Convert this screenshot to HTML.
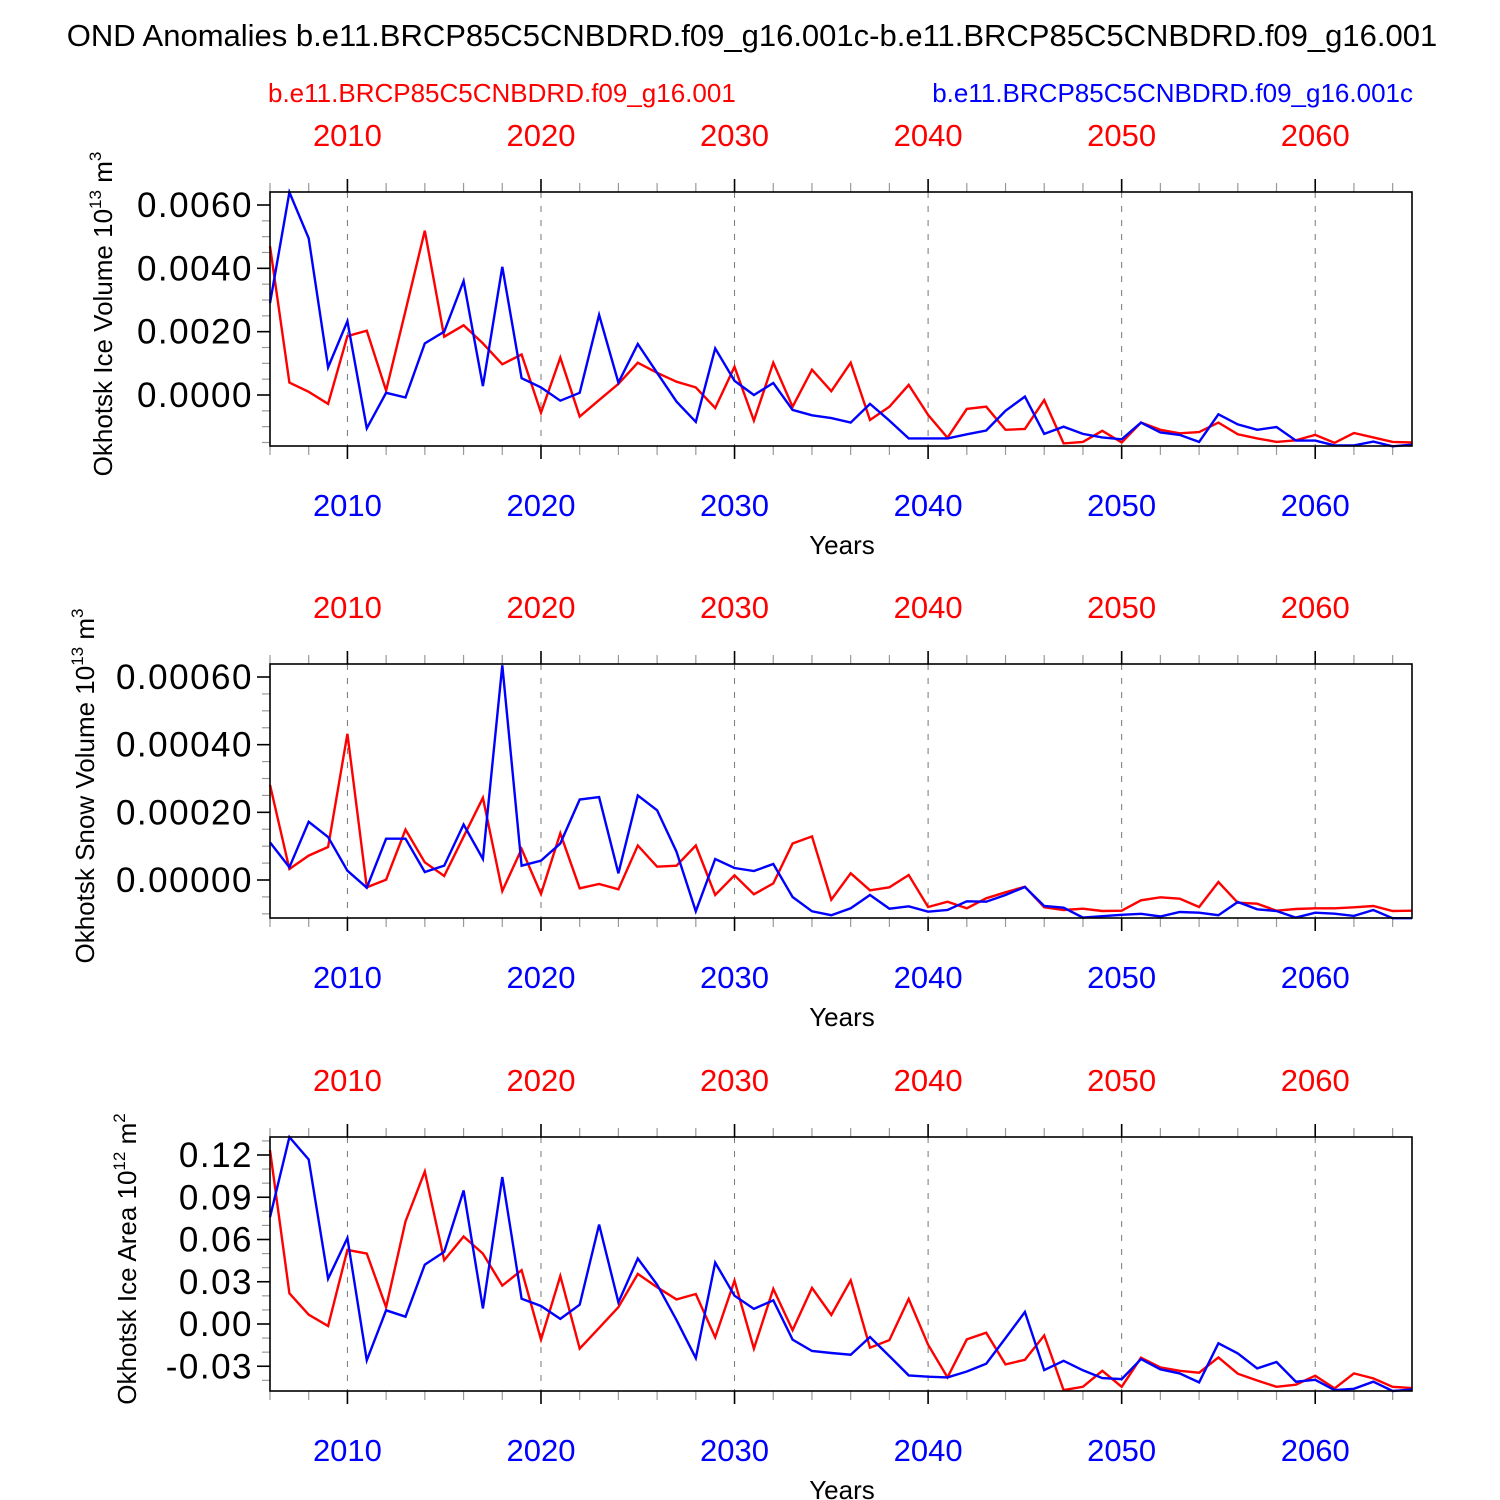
<!DOCTYPE html>
<html><head><meta charset="utf-8"><style>
body{margin:0;background:#fff;}
svg{display:block;font-family:"Liberation Sans",sans-serif;}
</style></head><body>
<svg id="chart" width="1500" height="1500" viewBox="0 0 1500 1500" xmlns="http://www.w3.org/2000/svg">
<text x="752" y="46" font-size="31" text-anchor="middle">OND Anomalies b.e11.BRCP85C5CNBDRD.f09_g16.001c-b.e11.BRCP85C5CNBDRD.f09_g16.001</text>
<text x="268" y="102" font-size="26" fill="#ff0000">b.e11.BRCP85C5CNBDRD.f09_g16.001</text>
<text x="1413" y="102" font-size="26" fill="#0000ff" text-anchor="end">b.e11.BRCP85C5CNBDRD.f09_g16.001c</text>
</svg>
<script>
const startYear = 2006;
const yearTicks = [2010, 2020, 2030, 2040, 2050, 2060];
const iceVolRed = [0.0047,0.00039,0.0001,-0.00028,0.00186,0.00203,0.00014,0.00266,0.00519,0.00184,0.0022,0.00163,0.00097,0.00128,-0.00056,0.00118,-0.00068,-0.00016,0.00035,0.00102,0.0007,0.00042,0.00024,-0.00041,0.00089,-0.00081,0.00102,-0.00037,0.0008,0.00012,0.00102,-0.00079,-0.00037,0.00032,-0.00063,-0.00135,-0.00044,-0.00037,-0.0011,-0.00107,-0.00016,-0.00153,-0.00148,-0.00113,-0.0015,-0.00087,-0.0011,-0.00121,-0.00117,-0.00087,-0.00124,-0.00137,-0.00148,-0.00143,-0.00126,-0.00151,-0.0012,-0.00134,-0.00148,-0.0015];
const iceVolBlue = [0.0029,0.0064,0.00495,0.00087,0.00233,-0.00105,0.00007,-0.00008,0.00163,0.002,0.0036,0.00028,0.00405,0.00053,0.00024,-0.00018,0.00007,0.00253,0.00039,0.00161,0.0007,-0.00021,-0.00085,0.00147,0.00045,0.0,0.00038,-0.00047,-0.00064,-0.00073,-0.00087,-0.00028,-0.00081,-0.00137,-0.00137,-0.00137,-0.00124,-0.00112,-0.0005,-0.00005,-0.00123,-0.001,-0.00123,-0.00134,-0.0014,-0.00087,-0.00118,-0.00126,-0.00148,-0.00061,-0.00093,-0.0011,-0.00101,-0.00144,-0.00144,-0.00159,-0.00159,-0.00147,-0.00162,-0.00157];
const snowVolRed = [0.000281,0.0000325,0.000072,0.0000975,0.000432,-0.0000217,0.000001,0.000149,0.0000522,0.0000118,0.000128,0.000243,-0.0000325,0.0000916,-0.0000414,0.000138,-0.0000246,-0.0000118,-0.0000276,0.000102,0.0000394,0.0000424,0.000102,-0.0000443,0.0000138,-0.0000424,-0.00001,0.000108,0.000129,-0.0000581,0.0000197,-0.0000305,-0.0000217,0.0000148,-0.0000798,-0.000064,-0.0000837,-0.0000542,-0.0000365,-0.0000197,-0.0000808,-0.0000887,-0.0000847,-0.0000916,-0.0000906,-0.0000601,-0.0000512,-0.0000552,-0.0000798,-0.0000059,-0.000067,-0.00007,-0.0000906,-0.0000857,-0.0000837,-0.0000837,-0.0000808,-0.0000769,-0.0000916,-0.0000906];
const snowVolBlue = [0.000111,0.0000374,0.000172,0.000127,0.0000276,-0.0000227,0.000122,0.000122,0.0000236,0.0000424,0.000164,0.0000621,0.000635,0.0000424,0.0000571,0.000108,0.000238,0.000245,0.0000197,0.00025,0.000206,0.0000837,-0.0000926,0.0000621,0.0000355,0.0000266,0.0000473,-0.0000502,-0.0000926,-0.000104,-0.0000837,-0.0000443,-0.0000847,-0.0000778,-0.0000936,-0.0000887,-0.000063,-0.000064,-0.0000443,-0.0000207,-0.0000769,-0.0000818,-0.000111,-0.000107,-0.000103,-0.0001,-0.000108,-0.0000946,-0.0000966,-0.000104,-0.000065,-0.0000867,-0.0000916,-0.000111,-0.0000966,-0.0000995,-0.000106,-0.0000887,-0.000113,-0.000113];
const iceAreaRed = [0.1235,0.0218,0.0066,-0.0014,0.0526,0.05,0.0119,0.0728,0.1083,0.0453,0.0621,0.05,0.0273,0.0382,-0.0111,0.0341,-0.0175,-0.0028,0.0119,0.0356,0.0261,0.0175,0.0213,-0.0095,0.0308,-0.0175,0.0249,-0.0043,0.0256,0.0064,0.031,-0.0168,-0.0114,0.0178,-0.0147,-0.0379,-0.0109,-0.0062,-0.0287,-0.0254,-0.0081,-0.0469,-0.0446,-0.0332,-0.0446,-0.0239,-0.0308,-0.0332,-0.0346,-0.0237,-0.0353,-0.0401,-0.0446,-0.0431,-0.0367,-0.0457,-0.0351,-0.0386,-0.0446,-0.0455];
const iceAreaBlue = [0.0758,0.1327,0.1168,0.0322,0.0611,-0.0258,0.0097,0.0052,0.0422,0.0512,0.0948,0.0111,0.1043,0.018,0.0128,0.0036,0.0137,0.0706,0.0154,0.0465,0.028,0.0028,-0.0242,0.0436,0.0201,0.0107,0.0168,-0.0111,-0.0192,-0.0206,-0.0218,-0.0092,-0.0228,-0.0365,-0.0374,-0.0379,-0.0337,-0.0282,-0.01,0.0085,-0.0327,-0.0261,-0.0329,-0.0384,-0.0391,-0.0249,-0.0322,-0.0351,-0.0415,-0.0137,-0.0209,-0.0315,-0.027,-0.041,-0.0396,-0.0469,-0.046,-0.041,-0.0476,-0.0465];
const iceVolTicks = ["0.0060","0.0040","0.0020","0.0000"];
const snowVolTicks = ["0.00060","0.00040","0.00020","0.00000"];
const iceAreaTicks = ["0.12","0.09","0.06","0.03","0.00","-0.03"];

const NS = "http://www.w3.org/2000/svg";
const svg = document.getElementById('chart');
const X0 = 270, X1 = 1412, YR0 = 2006, YR1 = 2065;
function xScale(yr){ return X0 + (yr - YR0) * (X1 - X0) / (YR1 - YR0); }
function mk(tag, attrs, parent){
  const e = document.createElementNS(NS, tag);
  for (const k in attrs) e.setAttribute(k, attrs[k]);
  (parent || svg).appendChild(e);
  return e;
}
const panels = [
  {key:'ice-volume', top:192, zeroY:395, pxPerUnit:190/0.006, minor:0.0005, red:iceVolRed, blue:iceVolBlue, ticks:iceVolTicks, title:'Okhotsk Ice Volume 10', sup:'13', unit:' m', usup:'3', tx:103},
  {key:'snow-volume', top:664, zeroY:880, pxPerUnit:203/0.0006, minor:0.00005, red:snowVolRed, blue:snowVolBlue, ticks:snowVolTicks, title:'Okhotsk Snow Volume 10', sup:'13', unit:' m', usup:'3', tx:85},
  {key:'ice-area', top:1137, zeroY:1324, pxPerUnit:169/0.12, minor:0.01, red:iceAreaRed, blue:iceAreaBlue, ticks:iceAreaTicks, title:'Okhotsk Ice Area 10', sup:'12', unit:' m', usup:'2', tx:127}
];
const H = 254;
panels.forEach(p => {
  const g = mk('g', {});
  
  
  const bot = p.top + H;
  const yS = v => p.zeroY - v * p.pxPerUnit;
  const vmax = (p.zeroY - p.top) / p.pxPerUnit, vmin = (p.zeroY - bot) / p.pxPerUnit;
  yearTicks.forEach(yr => {
    const l = mk('line', {x1:xScale(yr), x2:xScale(yr), y1:p.top, y2:bot, stroke:'#777', 'stroke-width':1, 'stroke-dasharray':'6,8'}, g);
    
    
  });
  for (let yr = YR0; yr <= YR1; yr++) {
    const major = yr % 10 === 0;
    if (!major && yr % 2 !== 0) continue;
    const len = major ? 13 : 9, col = major ? '#000' : '#999';
    const t1 = mk('line', {x1:xScale(yr), x2:xScale(yr), y1:p.top, y2:p.top - len, stroke:col, 'stroke-width':major?1.6:1.2}, g);
    
    
    const t2 = mk('line', {x1:xScale(yr), x2:xScale(yr), y1:bot, y2:bot + len, stroke:col, 'stroke-width':major?1.6:1.2}, g);
    
    
  }
  const n0 = Math.ceil(vmin / p.minor - 1e-6), n1 = Math.floor(vmax / p.minor + 1e-6);
  for (let n = n0; n <= n1; n++) {
    const y = yS(n * p.minor);
    const isMajor = p.ticks.some(t => Math.abs(parseFloat(t) - n * p.minor) < p.minor * 0.1);
    const tk = mk('line', {x1:X0, x2:X0 - (isMajor ? 13 : 8), y1:y, y2:y, stroke:isMajor?'#000':'#999', 'stroke-width':isMajor?1.6:1.2}, g);
    
    
  }
  p.ticks.forEach(t => {
    const tx = mk('text', {x:253, y:yS(parseFloat(t)) + 12, 'font-size':35, 'letter-spacing':1.5, 'text-anchor':'end'}, g);
    
    
    tx.textContent = t;
  });
  yearTicks.forEach(yr => {
    const a = mk('text', {x:xScale(yr), y:p.top - 46, 'font-size':31, 'text-anchor':'middle', fill:'#ff0000'}, g);
    
    
    a.textContent = yr;
    const b = mk('text', {x:xScale(yr), y:bot + 70, 'font-size':31, 'text-anchor':'middle', fill:'#0000ff'}, g);
    
    
    b.textContent = yr;
  });
  const xt = mk('text', {x:842, y:bot + 108, 'font-size':26, 'text-anchor':'middle'}, g);
  
  
  xt.textContent = 'Years';
  const cy = p.top + H / 2 - 5;
  const yt = mk('text', {x:0, y:0, 'font-size':26, 'text-anchor':'middle', transform:`translate(${p.tx + 9} ${cy}) rotate(-90)`}, g);
  
  
  yt.appendChild(document.createTextNode(p.title));
  const s1 = mk('tspan', {dy:-11, 'font-size':17}, yt); s1.textContent = p.sup;
  const s2 = mk('tspan', {dy:11}, yt); s2.textContent = p.unit;
  const s3 = mk('tspan', {dy:-11, 'font-size':17}, yt); s3.textContent = p.usup;
  [['red', p.red, '#ff0000'], ['blue', p.blue, '#0000ff']].forEach(([nm, arr, col]) => {
    const pts = arr.map((v, i) => xScale(startYear + i).toFixed(1) + ',' + yS(v).toFixed(1)).join(' ');
    const pl = mk('polyline', {points:pts, fill:'none', stroke:col, 'stroke-width':2.4, 'stroke-linejoin':'miter'}, g);
    
    
  });
  const fr = mk('rect', {x:X0, y:p.top, width:X1 - X0, height:H, fill:'none', stroke:'#000', 'stroke-width':1.6}, g);
  
  
});
</script>
</body></html>
